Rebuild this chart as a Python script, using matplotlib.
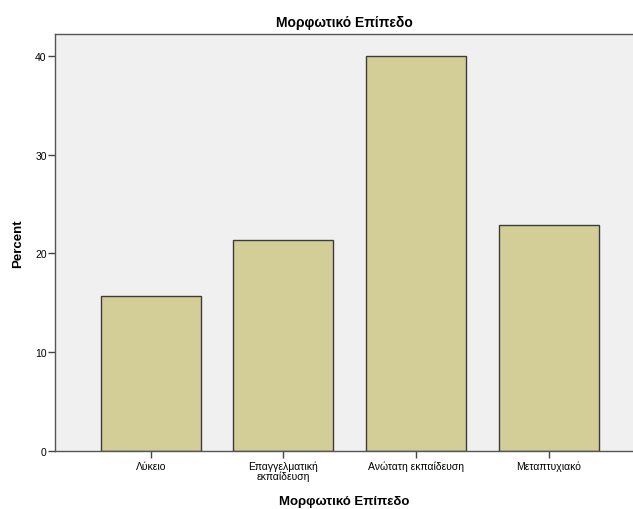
import matplotlib.pyplot as plt
import numpy as np

plt.rcParams['font.family'] = ['Liberation Sans', 'DejaVu Sans']

categories = ['Λύκειο', 'Επαγγελματική\nεκπαίδευση', 'Ανώτατη εκπαίδευση', 'Μεταπτυχιακό']
percent = [15.7, 21.4, 40.0, 22.9]
yticks = [0, 10, 20, 30, 40]

fig = plt.figure(figsize=(6.33, 5.10), dpi=100)
ax = fig.add_axes([55 / 633, 58 / 510, 1 - 55 / 633, (452 - 35) / 510])
ax.set_facecolor('#f0f0f0')

x = np.arange(len(categories))
ax.bar(x, percent, width=0.754, color='#d3ce97', edgecolor='#3c3c3c', linewidth=1.0, zorder=2)

ax.set_xlim(-0.722, 3.637)
ax.set_ylim(0, 42.2)
ax.set_yticks(yticks)
ax.set_xticks(x)
ax.set_xticklabels(categories, fontsize=7.5, linespacing=0.9)
ax.tick_params(axis='y', labelsize=7.5, length=5, width=1, color='#444444', pad=1)
ax.tick_params(axis='x', length=5, width=1, color='#444444', pad=2)

for s in ['right']:
    ax.spines[s].set_visible(False)
for s in ['top', 'left', 'bottom']:
    ax.spines[s].set_color('#555555')
    ax.spines[s].set_linewidth(1.0)

ax.set_ylabel('Percent', fontsize=9.5, fontweight='bold', labelpad=8)
ax.set_xlabel('Μορφωτικό Επίπεδο', fontsize=9.5, fontweight='bold', labelpad=10)
ax.set_title('Μορφωτικό Επίπεδο', fontsize=10, fontweight='bold', pad=6)

fig.savefig('out.png', dpi=100)
